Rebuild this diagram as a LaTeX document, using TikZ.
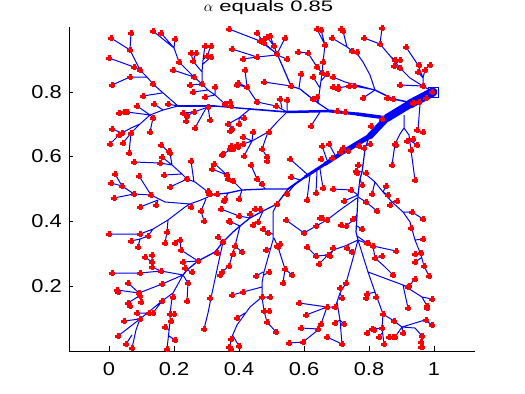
\documentclass[tikz,border=0pt]{standalone}
\usepackage{fontspec}
\setmainfont{Liberation Sans}
\newfontfamily\tickfont[FakeStretch=1.17]{Liberation Sans}
\newfontfamily\titlefont[FakeStretch=1.45]{Liberation Sans}
\tikzset{
 br/.style={draw=blue,line width=0.75pt,line join=round},
 wd/.style={draw=blue,line width=#1*0.75pt,line cap=round,line join=round},
 mk/.style={draw=red,line width=2.25pt},
 ax/.style={draw=black,line width=0.75pt},
 lbl/.style={font=\tickfont\fontsize{14}{16}\selectfont,inner sep=0pt},
 ttl/.style={font=\titlefont\fontsize{11.4}{13}\selectfont,inner sep=0pt}}
\begin{document}
\begin{tikzpicture}[x=0.75pt,y=-0.75pt]
\fill[white] (0,0) rectangle (525,393);
\path[use as bounding box] (0,0) rectangle (525,393);
% axes
\draw[ax] (69,27)--(69,351)--(475,351);
\foreach \t in {109,174,239,304,369,434} \draw[ax] (\t,351)--(\t,346);
\foreach \t in {286,221,156,92} \draw[ax] (69,\t)--(73,\t);
\node[lbl,anchor=base] (xa) at (109,375) {0};
\node[lbl,anchor=base] (xb) at (174,375) {0.2};
\node[lbl,anchor=base] (xc) at (239,375) {0.4};
\node[lbl,anchor=base] (xd) at (304,375) {0.6};
\node[lbl,anchor=base] (xe) at (369,375) {0.8};
\node[lbl,anchor=base] (xf) at (434,375) {1};
\node[lbl,anchor=base east] (ya) at (62,292.6) {0.2};
\node[lbl,anchor=base east] (yb) at (62,227.6) {0.4};
\node[lbl,anchor=base east] (yc) at (62,162.6) {0.6};
\node[lbl,anchor=base east] (yd) at (62,98.3) {0.8};
\node[ttl,anchor=base] (title) at (268.5,11.7) {$\alpha$\ equals 0.85};
% trunk
\draw[wd=9] (433,92)--(410,104);
\draw[wd=8] (410,104)--(387,118);
\draw[wd=6.5] (387,118)--(370,136);
\draw[wd=5] (370,136)--(345,151);
\draw[wd=4] (345,151)--(325,164);
\draw[wd=3] (325,164)--(305,177);
\draw[wd=2] (305,177)--(288,189);
\draw[wd=3.5] (387,118)--(357,114);
\draw[wd=3] (357,114)--(330,111);
\draw[wd=2.5] (330,111)--(287,112);
\draw[wd=1.6] (287,112)--(250,109);
\draw[wd=1.4] (250,109)--(215,106);
\draw[wd=1.2] (215,106)--(178,106);
\draw[wd=1.5] (375,90)--(393,99)--(413,103);
\draw[wd=1.3] (288,189)--(265,189)--(242,190)--(228,193)--(210,195)--(208,195);
\draw[wd=1.3] (288,189)--(277,204)--(263,211)--(250,218)--(240,226)--(233,232)--(223,242)--(215,252)--(198,261)--(187,270)--(183,275);
\draw[wd=1.2] (368,140)--(365,149)--(363,165)--(362,172)--(360,179)--(358,195)--(357,215)--(356,232)--(358,240);
\draw[wd=1.2] (277,54)--(282,65)--(291,86)--(300,89)--(310,97)--(318,103)--(330,111);
\draw[wd=1.1] (423,86)--(433,92);
% upper left
\draw[br] (131,33)--(130,50)--(140,70)--(147,77)--(153,84)--(162,92)--(178,106)
 (111,38)--(130,50) (109,58)--(134,67)--(140,70) (112,85)--(130,77)--(147,77)
 (143,96)--(162,93) (168,104)--(178,106) (154,104)--(163,110)
 (119,113)--(124,112)--(127,112)--(150,115)--(163,110)--(178,106)
 (137,106)--(150,115) (150,115)--(153,118)--(150,132)
 (131,133)--(140,124)--(150,115) (112,129)--(122,133)
 (110,144)--(119,135)--(122,133)--(131,128)--(140,124)
 (123,143)--(131,133) (129,153)--(131,133);
\draw[br] (153,31)--(174,48)--(179,62)--(194,77)--(202,84)--(208,90)--(215,95)--(225,104)--(232,108)
 (161,33)--(174,48) (175,39)--(174,48) (173,70)--(194,77) (190,85)--(202,84)
 (193,92)--(208,90) (205,97)--(215,95) (215,87)--(215,95)
 (205,46)--(203,60)--(202,72)--(202,84) (211,46)--(207,56)--(203,60) (211,57)--(203,64)
 (191,53)--(193,61)--(202,72) (196,53)--(193,61) (230,102)--(232,108)
 (183,113)--(194,112)--(208,107)--(215,106) (187,116)--(194,112) (186,121)--(187,116)
 (195,128)--(205,110)--(208,107) (210,120)--(208,107);
% zoom2 region
\draw[br] (229,29)--(260,41)--(277,54) (257,33)--(264,43)--(277,54) (264,39)--(264,43)
 (267,37)--(274,46)--(277,54) (270,36)--(274,46) (285,38)--(277,54)
 (232,49)--(257,57)--(277,55) (243,59)--(257,57) (287,59)--(277,55)
 (264,82)--(291,86) (301,74)--(299,88)
 (245,70)--(247,87)--(257,102)--(276,106)--(287,112) (237,85)--(247,87) (238,83)--(247,87)
 (280,99)--(282,108) (287,100)--(287,112)
 (317,29)--(325,45)--(323,62)--(322,73)--(320,88)--(318,103) (321,30)--(325,45)
 (298,52)--(308,53)--(317,67)--(322,73) (313,77)--(320,88) (327,74)--(321,81)
 (317,97)--(318,103) (313,99)--(317,100) (311,126)--(320,112)
 (250,109)--(239,118)--(228,124) (244,118)--(239,118) (239,124)--(239,118)
 (232,129)--(228,124) (230,131)--(232,129)
 (287,112)--(277,122)--(268,132)--(252,141)--(237,146)--(223,154)
 (243,137)--(252,141) (253,132)--(252,141) (244,156)--(252,141) (243,144)--(237,146)
 (230,149)--(233,149)--(237,146) (231,146)--(237,146) (222,155)--(223,154)
 (267,161)--(267,157)--(262,149)--(268,132);
% zoom3 region
\draw[br] (341,29)--(343,31)--(347,47)--(358,55)--(363,62)--(370,75)--(375,90)
 (332,38)--(347,47) (352,51)--(358,55) (357,52)--(358,55)
 (333,77)--(345,82)--(375,90) (333,87)--(338,88)--(349,86)--(354,86)--(375,90)
 (363,98)--(375,90)
 (382,28)--(380,44) (364,38)--(380,44) (380,44)--(391,57)--(400,68)--(410,78)--(423,86)
 (395,60)--(391,57) (400,60)--(397,63) (394,66)--(400,68)
 (406,47)--(418,65)--(423,78)--(423,86) (430,65)--(425,70)--(423,78) (418,72)--(423,78)
 (400,85)--(423,86)
 (420,104)--(418,130)--(423,132)
 (404,115)--(404,128)--(400,134)--(395,144)--(392,165)
 (404,128)--(409,135)--(411,150)--(415,180) (417,145)--(411,141) (407,141)--(409,138)
 (382,119)--(385,121) (371,126)--(375,130) (329,144)--(336,157) (322,146)--(327,160);
% vertical branch and right side
\draw[br] (358,165)--(363,165) (356,171)--(362,172) (366,173)--(363,172) (362,185)--(360,179)
 (363,172)--(375,182)--(383,192)--(392,202)--(403,212)--(410,222)--(415,240)--(421,255)--(424,266)--(429,276)
 (372,194)--(375,182) (386,186)--(383,192) (388,195)--(383,192) (390,205)--(392,202)
 (397,201)--(392,202) (412,212)--(403,212) (423,219)--(412,212) (411,228)--(410,222)
 (423,239)--(415,240) (415,254)--(421,255) (415,262)--(421,258)
 (333,189)--(351,190)--(358,195) (344,201)--(358,195) (366,202)--(358,197) (377,211)--(366,202)
 (304,233)--(316,226)--(327,220)--(340,210)--(357,198) (320,218)--(327,220)
 (286,220)--(304,233) (341,225)--(346,226)--(357,217) (353,219)--(357,215)
 (362,229)--(357,226) (367,243)--(357,236)
 (290,159)--(308,175) (310,175)--(307,200) (291,177)--(300,180) (287,194)--(296,183)
 (316,193)--(317,171) (323,188)--(320,169);
% middle lower
\draw[br] (215,164)--(227,175)--(233,181)--(242,190) (212,169)--(227,175)
 (251,165)--(257,179)--(262,184)--(265,189) (224,201)--(228,193) (239,199)--(242,190)
 (277,204)--(273,212)--(273,240)--(264,272)--(262,283)--(262,297)--(250,307)--(237,325)--(231,339)--(230,347)
 (255,209)--(260,209)--(263,211) (250,214)--(250,218) (221,209)--(239,216)--(250,218)
 (229,221)--(240,226) (253,225)--(258,222)--(263,211) (263,229)--(268,233)--(273,234)
 (218,237)--(223,242) (223,242)--(218,265)--(211,298)--(208,313)--(204,329)
 (240,226)--(235,246)--(229,266)--(222,272)--(220,275) (242,252)--(235,246) (233,254)--(231,258)
 (266,250)--(271,248) (278,247)--(274,238) (278,247)--(285,269)--(292,275) (283,283)--(285,269)
 (256,276)--(263,272) (269,272)--(264,275) (232,295)--(243,292)--(262,287) (270,297)--(262,297)
 (262,297)--(264,311)--(267,322)--(276,332) (269,311)--(264,311) (237,318)--(245,313)
 (239,346)--(233,336);
% lower left
\draw[br] (180,240)--(181,250)--(198,261) (176,244)--(180,240) (183,262)--(198,261)
 (185,268)--(187,270) (192,272)--(187,270)
 (183,275)--(161,271)--(140,273)--(112,273) (152,255)--(152,262)--(152,267)--(161,271) (145,257)--(152,262)
 (183,275)--(188,283)--(187,301)
 (183,275)--(173,293)--(172,298)--(170,314)--(170,322)--(167,349) (174,314)--(170,314)
 (165,327)--(169,330) (175,340)--(169,336)
 (162,284)--(183,275) (139,293)--(162,284) (128,283)--(139,293) (117,290)--(139,293)
 (141,302)--(140,296)--(139,293) (128,303)--(139,296)
 (162,301)--(173,293) (140,319)--(162,301) (124,321)--(140,319) (118,336)--(140,319)
 (132,348)--(136,330)--(140,319) (126,344)--(132,335) (137,313)--(153,313)--(162,301)
 (109,234)--(140,234)--(153,229)--(168,220)--(185,207)--(190,204)
 (131,241)--(140,239)--(148,236)--(153,229) (138,247)--(140,239)
 (165,243)--(167,232)--(168,220) (204,221)--(201,211)--(206,199)
 (208,192)--(195,182)--(187,179)--(182,174)--(172,165)--(170,153)--(169,151)
 (161,145)--(170,153) (162,157)--(172,165) (134,162)--(160,163)--(172,165)
 (164,175)--(182,174) (170,187)--(187,179) (191,161)--(194,182)
 (208,197)--(201,200)--(190,204)--(165,202)--(151,195)--(134,194)
 (139,176)--(151,195) (111,183)--(122,186)--(134,194) (115,174)--(122,186) (114,198)--(134,194)
 (140,207)--(158,200) (156,205)--(158,200) (191,207)--(190,204) (208,192)--(208,197);
% lower right
\draw[br] (358,240)--(373,246)--(396,251) (373,246)--(375,258)--(384,266)--(393,275) (382,256)--(375,258)
 (358,240)--(352,262)--(346,283)--(340,293)--(337,302)--(340,320)--(342,344)
 (347,248)--(352,252)--(354,255) (342,298)--(340,293) (327,307)--(335,307)--(337,302)
 (335,323)--(340,320) (344,324)--(340,320)
 (358,240)--(345,246)--(333,250)--(328,255)--(319,264) (330,256)--(333,250) (316,256)--(328,255) (307,247)--(316,256)
 (358,240)--(368,272)--(375,292)--(383,314)--(394,321)--(402,327)--(425,320)
 (368,272)--(403,285)--(408,287) (403,285)--(408,308) (415,279)--(409,286)
 (403,285)--(422,297)--(432,299) (427,306)--(422,297)
 (367,294)--(375,292) (366,298)--(367,294) (376,297)--(375,292)
 (383,314)--(382,328)--(384,344) (372,329)--(382,328) (367,333)--(372,329) (379,337)--(382,333)
 (389,337)--(395,337)--(402,327) (403,333)--(402,327) (432,325)--(425,320)
 (402,327)--(415,328)--(422,336)--(421,342)--(421,347)
 (299,303)--(327,307) (306,315)--(327,307) (321,324)--(327,307) (318,329)--(321,324)
 (301,328)--(318,329) (289,343)--(303,342)--(318,330) (327,337)--(342,344);
% root marker
\draw[blue,line width=0.75pt] (428,87) rectangle (438,97);
% sinks
\foreach \x/\y in {131/33,111/38,130/50,109/58,134/67,140/70,130/77,112/85,153/31,161/33,175/39,179/62,173/70,194/77,191/53,196/53,193/61,205/46,211/46,207/56,211/57,190/85,202/84,193/92,205/97,215/87,153/84,143/96,168/104,154/104,137/106,119/113,124/112,127/112,153/118,183/113,187/116,186/121,194/112,208/107,210/120,195/128,112/129,122/133,119/135,131/133,150/132,
110/144,123/143,129/153,161/145,169/151,170/153,162/157,134/162,160/163,191/161,164/175,170/187,187/179,115/174,111/183,122/186,139/176,134/194,114/198,151/195,140/207,156/205,191/207,208/191,209/194,212/169,214/164,201/211,204/221,109/234,140/234,148/236,131/241,167/232,165/243,175/243,180/240,
229/29,257/33,260/41,264/39,267/37,270/36,264/43,274/46,285/38,232/49,243/59,257/57,277/54,287/59,317/29,321/30,325/45,298/52,308/53,317/67,323/62,322/73,313/77,327/74,245/70,237/85,238/83,247/87,264/82,291/86,301/74,280/99,287/100,276/106,257/102,225/104,230/102,231/106,317/97,313/99,228/124,239/124,244/118,232/129,230/131,253/132,269/132,311/126,243/137,
341/29,343/31,332/38,382/28,364/38,380/44,352/51,357/52,406/47,395/60,400/60,394/66,400/68,419/65,430/65,425/70,418/72,333/77,333/87,338/87,338/89,349/86,354/86,400/85,423/86,363/98,387/98,393/99,413/103,419/102,426/98,432/92,337/111,345/112,382/119,371/126,417/130,423/132,
231/146,230/149,233/149,237/145,238/147,243/144,244/156,223/154,222/155,262/149,267/157,267/161,290/159,321/159,322/146,251/165,227/175,228/179,233/181,257/179,262/184,291/177,210/194,217/194,225/199,224/201,239/199,287/194,277/204,221/209,250/214,255/209,260/209,239/216,229/221,230/222,258/222,253/225,263/229,268/233,286/220,307/200,316/193,323/188,320/218,322/218,316/226,304/233,218/237,223/242,
329/144,340/152,343/148,348/151,332/158,359/146,364/148,370/144,358/165,356/171,357/173,366/173,395/144,396/145,392/165,407/141,413/139,417/145,411/150,415/180,362/185,386/186,372/194,388/195,333/189,351/190,344/201,366/202,390/205,397/201,377/211,412/212,423/219,327/220,353/219,341/225,346/226,362/229,411/228,367/243,423/239,
138/247,181/250,145/257,152/255,152/262,183/262,198/261,152/267,185/268,192/272,161/271,112/273,140/273,188/283,128/283,117/290,118/292,139/293,140/296,162/284,173/297,128/303,130/306,141/302,162/301,187/301,137/313,149/313,153/313,170/314,174/314,124/321,140/319,171/321,165/327,118/336,175/340,126/344,132/348,167/349,210/298,204/329,
217/253,235/246,242/252,233/254,229/266,222/272,220/275,266/250,277/246,280/244,278/247,285/269,292/275,283/283,256/276,269/272,232/295,243/292,262/297,270/297,264/311,269/311,237/318,267/322,276/332,231/339,229/347,231/349,239/346,307/247,316/256,319/264,328/255,299/303,327/307,306/315,301/328,321/324,318/329,327/337,289/343,303/342,
333/248,330/256,347/248,352/252,368/243,373/246,396/251,375/258,382/256,393/275,415/254,421/253,415/262,424/266,429/276,415/279,408/287,409/286,432/299,427/306,427/308,408/308,346/283,340/288,342/298,367/294,366/298,376/297,335/307,383/314,394/321,335/323,344/324,426/320,432/325,372/329,374/330,382/328,367/333,379/337,389/337,393/337,395/337,403/333,422/336,421/342,421/347,422/347,384/344,342/344}
 \draw[mk] (\x-3.4,\y)--(\x+3.4,\y) (\x,\y-3.4)--(\x,\y+3.4);
\end{tikzpicture}
\end{document}
